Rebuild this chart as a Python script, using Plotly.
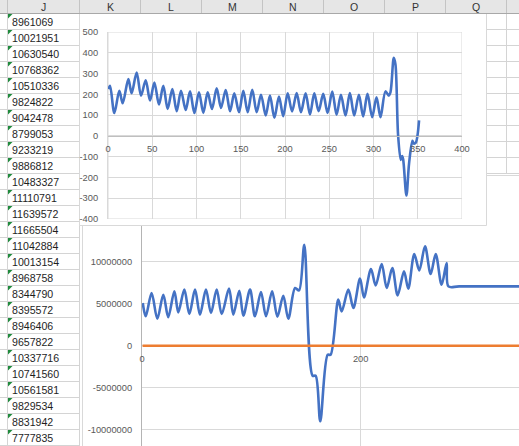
import plotly.graph_objects as go

# ---------------- data ----------------
# spreadsheet column J (visible cells)
col_header = ["J", "K", "L", "M", "N", "O", "P", "Q"]
cell_values = ["8961069", "10021951", "10630540", "10768362", "10510336", "9824822",
               "9042478", "8799053", "9233219", "9886812", "10483327", "11110791",
               "11639572", "11665504", "11042884", "10013154", "8968758", "8344790",
               "8395572", "8946406", "9657822", "10337716", "10741560", "10561581",
               "9829534", "8831942", "7777835"]

# series of the upper chart (also the orange series of the lower chart)
s1_x = [0.5, 2.3, 7.2, 12.8, 16.6, 23.0, 26.7, 32.4, 37.3, 42.6, 47.5, 52.4, 57.6,
        62.5, 67.4, 72.7, 77.6, 82.5, 87.8, 92.7, 97.6, 102.8, 107.7, 112.6, 117.5,
        122.8, 127.7, 133.0, 137.9, 142.7, 148.0, 152.9, 157.8, 163.0, 168.0, 172.9,
        178.2, 183.0, 188.0, 193.2, 198.0, 203.0, 208.0, 213.2, 218.0, 223.3, 228.2,
        233.1, 238.0, 243.2, 248.1, 253.4, 258.3, 263.2, 268.4, 273.3, 278.2, 283.5,
        288.3, 293.2, 298.5, 303.4, 307.9, 313.5, 317.3, 319.2, 322.9, 324.8, 327.8,
        330.8, 332.3, 333.5, 337.2, 340.2, 344.0, 345.5, 347.7, 351.5]
s1_y = [225, 241, 110, 217, 157, 273, 205, 305, 194, 268, 170, 257, 151,
        241, 130, 225, 119, 217, 125, 214, 110, 210, 111, 210, 130,
        229, 135, 221, 119, 205, 114, 217, 114, 222, 114, 198,
        98, 194, 87, 189, 95, 205, 118, 206, 114, 205, 103,
        205, 119, 202, 110, 213, 102, 198, 98, 206, 98, 198,
        94, 202, 90, 186, 90, 214, 194, 210, 376, 344, 3,
        -116, -97, -113, -287, -132, -24, -37, -33, 75]

# blue series of the lower chart
s2_x = [0.7, 3.4, 8.8, 14.0, 19.5, 24.0, 29.6, 33.2, 38.7, 43.3, 48.5, 53.0, 58.5,
        63.1, 68.3, 72.9, 79.6, 83.5, 89.0, 92.7, 98.8, 103.3, 108.8, 113.4, 119.0,
        123.8, 129.2, 133.8, 140.0, 143.6, 148.4, 156.0, 158.8, 163.0, 169.8,
        172.5, 179.5, 182.6, 188.7, 193.3, 199.4, 203.0, 209.4, 213.7, 219.2, 223.8,
        228.9, 233.8, 239.6, 243.5, 249.0, 253.6, 258.8, 264.0, 268.6, 274.0, 278.6,
        280.2, 290.0, 352.0]
s2_y = [5080000, 3500000, 6270000, 3200000, 6070000, 3400000, 6470000, 3970000,
        6670000, 3770000, 6670000, 3700000, 6670000, 3900000, 6670000, 3770000,
        6790000, 3700000, 6550000, 3570000, 6670000, 3500000, 6400000, 3500000,
        6470000, 3450000, 5950000, 3200000, 6870000, 6580000, 12000000, -3570000,
        -3570000, -9000000, -1070000, -1070000, 5480000, 4080000, 6670000,
        4480000, 7980000, 5750000, 9130000, 7180000, 9720000, 6870000, 9250000,
        5990000, 8850000, 6790000, 10900000, 8970000, 11820000, 8530000, 10900000,
        7260000, 9840000, 7060000, 7060000, 7060000]

# tick labels
c1_yticks = [-400, -300, -200, -100, 0, 100, 200, 300, 400, 500]
c1_ylabels = ["-400", "-300", "-200", "-100", "0", "100", "200", "300", "400", "500"]
c2_yticks = [-10000000, -5000000, 0, 5000000, 10000000]
c2_ylabels = ["-10000000", "-5000000", "0", "5000000", "10000000"]

# ---------------- layout helpers ----------------
W, H = 519, 446
def px(x):
    return min(max(x, 0), W) / W
def py(y):
    return 1 - min(max(y, 0), H) / H

BLUE = "#4472C4"
ORANGE = "#ED7D31"
GRID = "#d9d9d9"
CELL = "#d4d4d4"
TICK = dict(family="Liberation Sans, Arial, sans-serif", size=9.3, color="#595959")

fig = go.Figure()
fig.add_trace(go.Scatter(x=s1_x, y=s1_y, xaxis="x", yaxis="y", mode="lines",
                         line=dict(color=BLUE, width=2.6, shape="spline", smoothing=0.9),
                         hoverinfo="skip"))
fig.add_trace(go.Scatter(x=s2_x, y=s2_y, xaxis="x2", yaxis="y2", mode="lines",
                         line=dict(color=BLUE, width=2.6, shape="spline", smoothing=0.9),
                         hoverinfo="skip"))
fig.add_trace(go.Scatter(x=s1_x, y=s1_y, xaxis="x2", yaxis="y2", mode="lines",
                         line=dict(color=ORANGE, width=2.6, shape="spline", smoothing=0.9),
                         hoverinfo="skip"))

shapes = []
def line(x0, y0, x1, y1, color, w=1):
    shapes.append(dict(type="line", xref="paper", yref="paper", layer="below",
                       x0=px(x0), y0=py(y0), x1=px(x1), y1=py(y1),
                       line=dict(color=color, width=w)))
def fillrect(x0, y0, x1, y1, fill):
    shapes.append(dict(type="rect", xref="paper", yref="paper", layer="below",
                       x0=px(x0), y0=py(y0), x1=px(x1), y1=py(y1),
                       fillcolor=fill, line=dict(width=0)))

ROW0 = 13.5
ROWH = 16
# spreadsheet grid, left (columns I/J)
for k in range(len(cell_values) + 1):
    y = ROW0 + ROWH * k
    line(0, y, 79.5, y, CELL)
line(7.5, ROW0, 7.5, H, CELL)
line(79.5, ROW0, 79.5, H, CELL)
# spreadsheet grid, right of the upper chart
for k in range(1, 11):
    y = ROW0 + ROWH * k
    line(486, y, W, y, CELL)
line(506.5, ROW0, 506.5, 174, CELL)

# lower chart area (extends past the window), then upper chart area on top
fillrect(82.5, 175.5, W, H, "white")
line(82.5, 175.5, W, 175.5, GRID)
line(82.5, 175.5, 82.5, H, GRID)
fillrect(79.5, 5, 486.5, 225.5, "white")
line(79.5, 225.5, 486.5, 225.5, GRID)
line(486.5, 5, 486.5, 225.5, GRID)
line(79.5, 5, 79.5, 225.5, GRID)

# column header strip
fillrect(0, 0, W, 13.5, "#e6e6e6")
line(0, 13.5, W, 13.5, "#a8a8a8")
for xs in [7.5, 79.5, 140.5, 201.5, 262.5, 323.5, 384.5, 445.5, 506.5]:
    line(xs, 0, xs, 13, "#c4c4c4")

# green error triangles
for k in range(len(cell_values)):
    yt = ROW0 + ROWH * k + 0.5
    shapes.append(dict(type="path", xref="paper", yref="paper", layer="above",
                       path=f"M {px(8)} {py(yt)} L {px(12.5)} {py(yt)} L {px(8)} {py(yt + 4.5)} Z",
                       fillcolor="#1f8a3c", line=dict(width=0)))

annotations = []
hdr_x = [43, 110, 171, 232, 293, 354, 415, 476]
for lab, xc in zip(col_header, hdr_x):
    annotations.append(dict(text=lab, x=px(xc), y=py(6.8), xref="paper", yref="paper",
                            showarrow=False, xanchor="center", yanchor="middle",
                            font=dict(family="Liberation Sans, Arial", size=10.5, color="#333333")))
for k, v in enumerate(cell_values):
    annotations.append(dict(text=v, x=px(9.5), y=py(ROW0 + ROWH * k + 8.7), xref="paper", yref="paper",
                            showarrow=False, xanchor="left", yanchor="middle",
                            font=dict(family="Liberation Sans, Arial", size=10.6, color="#1e1e1e")))

fig.update_layout(
    template="none",
    width=W, height=H,
    margin=dict(l=0, r=0, t=0, b=0, pad=0, autoexpand=False),
    paper_bgcolor="white",
    plot_bgcolor="rgba(0,0,0,0)",
    showlegend=False,
    shapes=shapes,
    annotations=annotations,
    xaxis=dict(domain=[px(108), px(462)], range=[0, 400], dtick=50, tick0=0,
               anchor="free", position=py(135.7), automargin=False,
               showgrid=True, gridcolor=GRID, gridwidth=1,
               showline=True, linecolor="#bfbfbf", linewidth=1, zeroline=False,
               ticks="outside", ticklen=4, tickcolor="rgba(0,0,0,0)",
               tickfont=TICK, fixedrange=True),
    yaxis=dict(domain=[py(219), py(32)], range=[-400, 500], anchor="x", automargin=False,
               tickvals=c1_yticks, ticktext=c1_ylabels,
               showgrid=True, gridcolor=GRID, gridwidth=1,
               showline=True, linecolor=GRID, mirror=False, zeroline=False,
               ticks="outside", ticklen=7, tickcolor="rgba(0,0,0,0)",
               tickfont=TICK, fixedrange=True),
    xaxis2=dict(domain=[px(142), 1], range=[0, (W - 142) / 1.0935], dtick=200, tick0=0,
                anchor="free", position=py(345.7), automargin=False,
                showgrid=True, gridcolor=GRID, gridwidth=1,
                showline=False, zeroline=False,
                ticks="outside", ticklen=4, tickcolor="rgba(0,0,0,0)",
                tickfont=TICK, fixedrange=True),
    yaxis2=dict(domain=[0, py(226)], range=[-11940000, 14250000], anchor="x2", automargin=False,
                tickvals=c2_yticks, ticktext=c2_ylabels,
                showgrid=True, gridcolor=GRID, gridwidth=1,
                showline=True, linecolor="#b4b4b4", zeroline=False,
                ticks="outside", ticklen=7, tickcolor="rgba(0,0,0,0)",
                tickfont=TICK, fixedrange=True),
)

# outline of the upper plot area (top/right grid edges)
fig.add_shape(type="rect", xref="x", yref="y", x0=0, x1=400, y0=-400, y1=500,
              line=dict(color=GRID, width=1), layer="below")

fig.write_html("out.html", config={"displayModeBar": False, "staticPlot": True},
               post_script="document.body.style.margin='0';document.body.style.overflow='hidden';")
